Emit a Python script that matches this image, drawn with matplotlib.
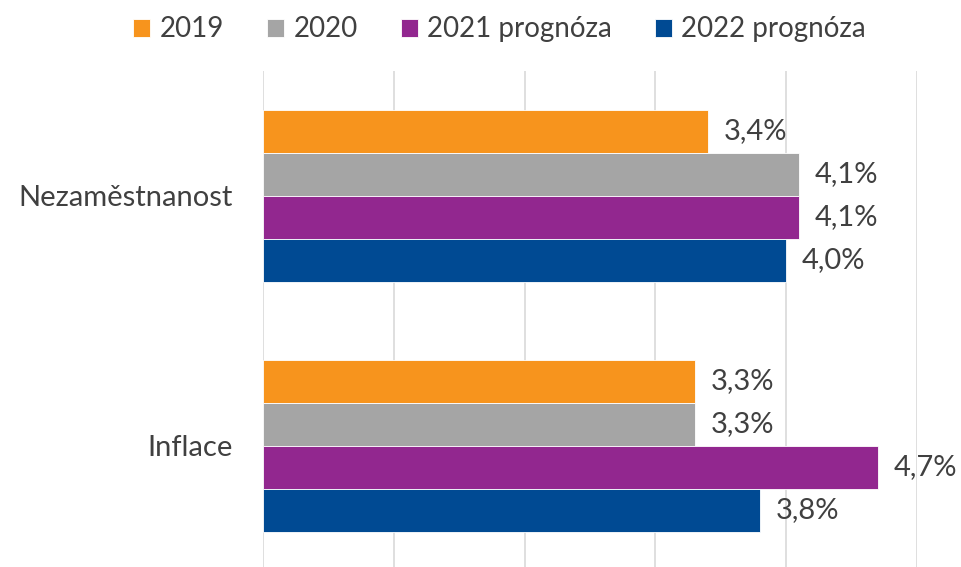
import matplotlib.pyplot as plt
import numpy as np

# data
categories = ['Inflace', 'Nezaměstnanost']
series = ['2019', '2020', '2021 prognóza', '2022 prognóza']
values = {
    '2019': [3.3, 3.4],
    '2020': [3.3, 4.1],
    '2021 prognóza': [4.7, 4.1],
    '2022 prognóza': [3.8, 4.0],
}
colors = ['#F7941D', '#A5A5A5', '#92278F', '#004A93']

plt.rcParams['font.family'] = ['Lato', 'DejaVu Sans']
text_color = '#404040'

fig = plt.figure(figsize=(9.61, 5.67), dpi=100)
ax = fig.add_axes([263 / 961, -4 / 567, (917 - 263) / 961, 500 / 567])

h = 0.172
y = np.arange(len(categories))
for i, (name, col) in enumerate(zip(series, colors)):
    offs = (1.5 - i) * h
    bars = ax.barh(y + offs, values[name], height=h, color=col, label=name,
                   edgecolor='white', linewidth=0.6, zorder=2)
    for b, v in zip(bars, values[name]):
        ax.text(b.get_width() + 0.12, b.get_y() + b.get_height() / 2,
                f'{v:.1f}%'.replace('.', ','), va='center', ha='left',
                fontsize=21, color=text_color, clip_on=False)

ax.set_xlim(0, 5)
ax.set_ylim(-0.5, 1.5)
ax.set_yticks(y)
ax.set_yticklabels(categories, fontsize=21, color=text_color)
ax.set_xticks(np.arange(0, 6, 1))
ax.tick_params(axis='x', labelbottom=False, length=0)
ax.tick_params(axis='y', length=0, pad=22)
ax.grid(axis='x', color='#D9D9D9', linewidth=1.2, zorder=0)
for s in ax.spines.values():
    s.set_visible(False)

fig.legend(loc='upper center', bbox_to_anchor=(0.52, 1.015), ncol=4, frameon=False,
           fontsize=20, handlelength=0.6, handleheight=0.6, handletextpad=0.35,
           columnspacing=1.55, labelcolor=text_color)

fig.savefig('out.png', dpi=100)
